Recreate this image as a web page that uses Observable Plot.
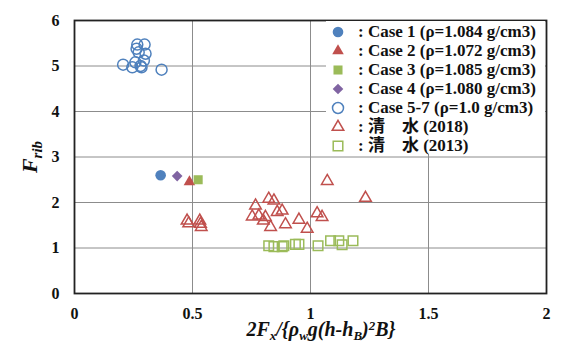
<!DOCTYPE html>
<html><head><meta charset="utf-8">
<script src="https://cdn.jsdelivr.net/npm/d3@7"></script>
<script src="https://cdn.jsdelivr.net/npm/@observablehq/plot@0.6"></script>
<style>
body{margin:0;background:#fff;}
#wrap{position:relative;width:563px;height:358px;}
#legend{position:absolute;left:326px;top:21px;width:219px;height:133px;background:#fff;
  font-family:"Liberation Serif","Noto Sans CJK JP",serif;font-weight:bold;font-size:17px;color:#111;}
.row{position:absolute;left:0;height:19px;line-height:19px;white-space:nowrap;}
.row svg{position:absolute;left:4px;top:2px;}
.row span{position:absolute;left:32px;top:0;}
</style></head><body><div id="wrap"></div>
<script>
// ---- data ----
const case1X = [0.365];
const case1Y = [2.60];
const case2X = [0.487];
const case2Y = [2.45];
const case3X = [0.524];
const case3Y = [2.50];
const case4X = [0.435];
const case4Y = [2.58];
const case57X = [0.206, 0.245, 0.284, 0.369, 0.266, 0.297, 0.263, 0.301, 0.272, 0.258, 0.294, 0.280];
const case57Y = [5.03, 4.97, 4.97, 4.92, 5.47, 5.47, 5.38, 5.27, 5.30, 5.08, 5.12, 5.00];
const shimizu2018X = [1.071, 1.233, 0.477, 0.484, 0.531, 0.534, 0.537, 0.767, 0.823, 0.845, 0.880, 0.859, 0.753, 0.781, 0.809, 0.800, 0.831, 0.894, 0.951, 0.986, 1.028, 1.049];
const shimizu2018Y = [2.47, 2.10, 1.60, 1.54, 1.60, 1.53, 1.46, 1.93, 2.08, 2.04, 1.82, 1.79, 1.69, 1.71, 1.68, 1.60, 1.46, 1.52, 1.62, 1.42, 1.76, 1.68];
const shimizu2013X = [0.823, 0.845, 0.880, 0.887, 0.936, 0.951, 1.032, 1.085, 1.120, 1.134, 1.180];
const shimizu2013Y = [1.05, 1.03, 1.03, 1.05, 1.08, 1.08, 1.05, 1.16, 1.16, 1.07, 1.16];
const xTicks = [0, 0.5, 1, 1.5, 2];
const yTicks = [0, 1, 2, 3, 4, 5, 6];
const legendLabels = [": Case 1 (ρ=1.084 g/cm3)", ": Case 2 (ρ=1.072 g/cm3)", ": Case 3 (ρ=1.085 g/cm3)", ": Case 4 (ρ=1.080 g/cm3)", ": Case 5-7 (ρ=1.0 g/cm3)", ": 清\u3000水 (2018)", ": 清\u3000水 (2013)"];

const BLUE = "#4F81BD", RED = "#C0504D", GREEN = "#9BBB59", PURPLE = "#8064A2";
const pts = (xs, ys) => xs.map((x, i) => ({x, y: ys[i]}));

// series styling (order = legend order)
const series = [
  {data: pts(case1X, case1Y), symbol: "circle", r: 5.3, fill: BLUE, stroke: "none"},
  {data: pts(case2X, case2Y), symbol: "triangle", r: 4.3, fill: RED, stroke: "none"},
  {data: pts(case3X, case3Y), symbol: "square", r: 5.1, fill: GREEN, stroke: "none"},
  {data: pts(case4X, case4Y), symbol: "diamond2", r: 4.8, fill: PURPLE, stroke: "none"},
  {data: pts(case57X, case57Y), symbol: "circle", r: 5.5, fill: "none", stroke: BLUE},
  {data: pts(shimizu2018X, shimizu2018Y), symbol: "triangle", r: 4.3, fill: "none", stroke: RED},
  {data: pts(shimizu2013X, shimizu2013Y), symbol: "square", r: 5.4, fill: "none", stroke: GREEN}
];
const drawOrder = [4, 5, 6, 0, 3, 1, 2];

const chart = Plot.plot({
  width: 563, height: 358,
  marginLeft: 74, marginRight: 17, marginTop: 20, marginBottom: 65,
  style: {fontFamily: "'Liberation Serif', serif", fontSize: "16px", fontWeight: "bold", color: "#111", background: "#fff"},
  x: {domain: [0, 2]},
  y: {domain: [0, 6]},
  marks: [
    Plot.gridX(xTicks.slice(1, -1), {stroke: "#8c8c8c", strokeOpacity: 1, strokeWidth: 1}),
    Plot.gridY(yTicks.slice(1, -1), {stroke: "#8c8c8c", strokeOpacity: 1, strokeWidth: 1}),
    Plot.axisX(xTicks, {tickSize: 0, tickPadding: 14, tickFormat: d => String(d), label: null, fill: "#111"}),
    Plot.axisY(yTicks, {tickSize: 0, tickPadding: 15, tickFormat: d => String(d), label: null, fill: "#111"}),
    ...drawOrder.map(i => {
      const s = series[i];
      return Plot.dot(s.data, {x: "x", y: "y", symbol: () => s.symbol, r: s.r, fill: s.fill, stroke: s.stroke, strokeWidth: 1.5});
    }),
    Plot.frame({stroke: "#222", strokeWidth: 1.8})
  ]
});

const wrap = document.getElementById("wrap");
wrap.appendChild(chart);

// axis labels with sub/superscripts
const svg = d3.select(chart);
const lf = "'Liberation Serif', serif";
const yl = svg.append("text")
  .attr("transform", "translate(37,157) rotate(-90)")
  .attr("text-anchor", "middle").attr("font-family", lf).attr("font-weight", "bold")
  .attr("font-style", "italic").attr("fill", "#111");
yl.append("tspan").attr("font-size", 22).text("F");
yl.append("tspan").attr("font-size", 15).attr("dy", 5).text("rib");

const xl = svg.append("text")
  .attr("x", 321).attr("y", 336)
  .attr("text-anchor", "middle").attr("font-family", lf).attr("font-weight", "bold")
  .attr("font-style", "italic").attr("font-size", 20).attr("fill", "#111");
const parts = [["2F", 0], ["x", 4], ["/{ρ", -4], ["w", 4], ["g(h-h", -4], ["B", 4], [")", -4], ["2", -6], ["B}", 6]];
parts.forEach(([t, dy]) => {
  const sp = xl.append("tspan").text(t).attr("dy", dy);
  if (["x", "w", "B", "2"].includes(t)) sp.attr("font-size", 13);
});

// legend
const leg = document.createElement("div");
leg.id = "legend";
wrap.appendChild(leg);
series.forEach((s, i) => {
  const row = document.createElement("div");
  row.className = "row";
  row.style.top = (1 + i * 19) + "px";
  const sym = {circle: d3.symbolCircle, triangle: d3.symbolTriangle, square: d3.symbolSquare, diamond2: d3.symbolDiamond2}[s.symbol];
  const path = d3.symbol(sym, s.r * s.r * Math.PI)();
  row.innerHTML = `<svg width="16" height="16"><path transform="translate(8,8)" d="${path}" fill="${s.fill}" stroke="${s.stroke}" stroke-width="1.5"/></svg><span>${legendLabels[i]}</span>`;
  leg.appendChild(row);
});
</script></body></html>
